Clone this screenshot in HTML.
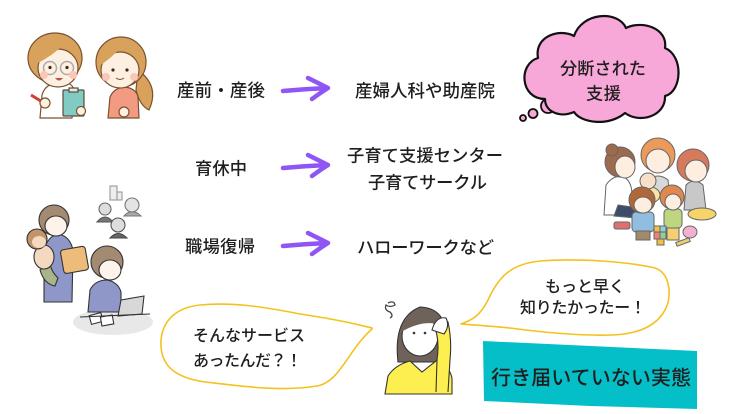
<!DOCTYPE html>
<html><head><meta charset="utf-8">
<style>
html,body{margin:0;padding:0;background:#fff;}
svg{display:block;}
text{font-family:"Liberation Sans","Noto Sans CJK JP",sans-serif;fill:#1e1e1e;font-weight:500;}
</style></head>
<body>
<svg width="736" height="414" viewBox="0 0 736 414" xmlns="http://www.w3.org/2000/svg">
<rect width="736" height="414" fill="#fff"/>

<!-- ===== Top-left: doctor + pregnant woman ===== -->
<g stroke="#7a5230" stroke-width="1.2">
  <path d="M40,118 L42,95 Q45,85 55,83 L68,83 Q75,86 74,95 L72,118 Z" fill="#fff"/>
  <rect x="63" y="90" width="21" height="26" rx="1" fill="#80cbc4" stroke="#5a4a3a"/>
  <rect x="69" y="88" width="9" height="4" fill="#e8e8e8" stroke="#5a4a3a"/>
  <circle cx="81" cy="111" r="4.5" fill="#fdf0e0"/>
  <line x1="31" y1="95" x2="44" y2="103" stroke="#d04030" stroke-width="3"/>
  <circle cx="45" cy="103" r="5" fill="#fdf0e0"/>
  <ellipse cx="55" cy="58" rx="27" ry="25" fill="#d9a25c"/>
  <ellipse cx="58" cy="68" rx="20" ry="19" fill="#fdf0e0"/>
  <path d="M36,64 Q38,40 60,37 Q79,40 80,62 Q72,50 62,46 Q52,56 36,64 Z" fill="#d9a25c" stroke="none"/>
  <path d="M138,70 Q160,86 149,110 Q140,106 136,90 Z" fill="#d9a25c"/>
  <path d="M108,118 L110,97 Q114,88 124,87 Q136,88 138,97 L139,118 Z" fill="#f39a82"/>
  <circle cx="124" cy="112" r="5" fill="#fdf0e0"/>
  <ellipse cx="121" cy="62" rx="25" ry="25" fill="#d9a25c"/>
  <ellipse cx="120" cy="70" rx="19" ry="18" fill="#fdf0e0"/>
  <path d="M99,66 Q101,42 122,39 Q143,42 145,62 Q131,52 122,46 Q112,58 99,66 Z" fill="#d9a25c" stroke="none"/>
</g>
<g>
  <circle cx="50" cy="68" r="6.5" fill="none" stroke="#aaa" stroke-width="1.5"/>
  <circle cx="67" cy="68" r="6.5" fill="none" stroke="#aaa" stroke-width="1.5"/>
  <circle cx="44" cy="75" r="4" fill="#f9c6b8"/><circle cx="73" cy="75" r="4" fill="#f9c6b8"/>
  <circle cx="50" cy="67.5" r="1.6" fill="#3a2a1a"/><circle cx="67" cy="67.5" r="1.6" fill="#3a2a1a"/>
  <path d="M55,78 Q59,83 63,78 Z" fill="#c0504d"/>
  <circle cx="106" cy="77" r="4" fill="#f9c6b8"/><circle cx="134" cy="77" r="4" fill="#f9c6b8"/>
  <circle cx="113" cy="70" r="1.6" fill="#3a2a1a"/><circle cx="127" cy="70" r="1.6" fill="#3a2a1a"/>
  <path d="M116,78 Q120,81 124,78" fill="none" stroke="#7a5230" stroke-width="1"/>
</g>

<!-- ===== Bottom-left ===== -->
<ellipse cx="113" cy="322" rx="40" ry="13" fill="#e8e8e8"/>
<g stroke="#333" stroke-width="1.1">
  <rect x="90" y="314" width="12" height="9" fill="#fff" transform="rotate(-15 96 318)"/>
  <rect x="101" y="316" width="12" height="9" fill="#fff" transform="rotate(-10 107 320)"/>
  <rect x="110" y="186" width="7" height="14" fill="#eee" stroke="#999"/>
  <rect x="117" y="192" width="5" height="8" fill="#eee" stroke="#999"/>
  <path d="M97,222 Q105,212 113,222 Z" fill="#777" stroke="#555"/>
  <circle cx="105" cy="209" r="6" fill="#ddd" stroke="#666"/>
  <path d="M124,216 Q132,207 141,216 Z" fill="#aaa" stroke="#777"/>
  <circle cx="132" cy="205" r="7" fill="#e4e4e4" stroke="#777"/>
  <path d="M110,238 Q118,229 127,238 Z" fill="#666" stroke="#444"/>
  <circle cx="118" cy="225" r="7" fill="#ddd" stroke="#555"/>
  <path d="M44,302 L44,250 Q48,236 58,234 Q70,236 73,250 L72,302 Z" fill="#8e97c8"/>
  <rect x="62" y="248" width="25" height="24" rx="3" fill="#edbb7a" transform="rotate(-10 74 260)"/>
  <circle cx="54" cy="220" r="15" fill="#a38a72"/>
  <ellipse cx="56" cy="226" rx="11" ry="10" fill="#fdf3ea"/>
  <path d="M40,270 Q44,284 55,286 L58,278 Q50,270 50,262 Z" fill="#a9b48a"/>
  <ellipse cx="44" cy="257" rx="10" ry="12" fill="#f5d8c0"/>
  <circle cx="37" cy="239" r="10" fill="#c2946c"/>
  <ellipse cx="39" cy="242" rx="7" ry="6" fill="#f5d8c0" stroke="none"/>
  <path d="M88,312 L90,290 Q95,280 107,280 Q118,282 121,292 L121,312 Z" fill="#8e97c8"/>
  <circle cx="107" cy="262" r="16" fill="#a38a72"/>
  <ellipse cx="110" cy="270" rx="11" ry="10" fill="#fdf3ea"/>
  <polygon points="121,300 144,296 142,314 118,316" fill="#d8d8d8"/>
  <line x1="80" y1="317" x2="150" y2="314"/>
</g>

<!-- ===== Top-right family ===== -->
<g stroke="#666" stroke-width="1">
  <path d="M604,215 L606,185 Q612,176 622,176 Q632,180 632,195 L630,215 Z" fill="#fff"/>
  <path d="M618,205 L640,208 L636,218 L614,216 Z" fill="#3d4c6a"/>
  <circle cx="620" cy="162" r="15" fill="#9c6a4c"/>
  <circle cx="612" cy="150" r="6" fill="#9c6a4c"/>
  <ellipse cx="625" cy="167" rx="10" ry="11" fill="#fdeee0"/>
  <path d="M646,198 L648,180 Q658,172 668,180 L670,198 Z" fill="#d8d8d8"/>
  <circle cx="658" cy="155" r="17" fill="#ec9a5c"/>
  <ellipse cx="658" cy="161" rx="12" ry="12" fill="#fdeee0"/>
  <path d="M684,210 L686,185 Q694,177 703,185 L706,210 Z" fill="#c8c8c8"/>
  <ellipse cx="702" cy="214" rx="14" ry="6" fill="#f6d46a"/>
  <circle cx="693" cy="165" r="16" fill="#d67a5e"/>
  <ellipse cx="696" cy="171" rx="11" ry="11" fill="#fdeee0"/>
  <ellipse cx="650" cy="195" rx="10" ry="8" fill="#f9e4a0"/>
  <circle cx="648" cy="181" r="8" fill="#f8e0c8"/>
  <rect x="632" y="212" width="22" height="20" rx="4" fill="#90bde0"/>
  <rect x="636" y="231" width="14" height="9" fill="#a08a6a"/>
  <circle cx="642" cy="200" r="13" fill="#b0683a"/>
  <ellipse cx="643" cy="205" rx="9" ry="8" fill="#fdeee0"/>
  <rect x="664" y="209" width="18" height="19" rx="4" fill="#bfd680"/>
  <rect x="667" y="228" width="12" height="12" fill="#f5d070"/>
  <circle cx="672" cy="197" r="12" fill="#e0884e"/>
  <ellipse cx="673" cy="202" rx="8" ry="8" fill="#fdeee0"/>
  <rect x="654" y="226" width="6" height="6" fill="#f0c040"/>
  <rect x="660" y="226" width="6" height="6" fill="#8ad0e0"/>
  <rect x="654" y="232" width="6" height="7" fill="#f08080"/>
  <rect x="660" y="232" width="6" height="7" fill="#90d090"/>
  <rect x="657" y="239" width="7" height="6" fill="#f0c040"/>
  <rect x="614" y="222" width="16" height="7" rx="2" fill="#e07070"/>
  <ellipse cx="690" cy="232" rx="7" ry="6" fill="#f4b0d0"/>
  <rect x="676" y="240" width="14" height="4" fill="#e8d070" transform="rotate(-20 683 242)"/>
</g>

<!-- ===== Arrows ===== -->
<g stroke="#8f55f5" stroke-width="4.5" stroke-linecap="round" stroke-linejoin="round" fill="none">
  <path d="M283,91 Q305,89 327,88 M308,78 Q320,84 328,88 Q320,93 312,99"/>
</g>
<g transform="translate(0,77)" stroke="#8f55f5" stroke-width="4.5" stroke-linecap="round" stroke-linejoin="round" fill="none">
  <path d="M283,91 Q305,89 327,88 M308,78 Q320,84 328,88 Q320,93 312,99"/>
</g>
<g transform="translate(0,155)" stroke="#8f55f5" stroke-width="4.5" stroke-linecap="round" stroke-linejoin="round" fill="none">
  <path d="M283,91 Q305,89 327,88 M308,78 Q320,84 328,88 Q320,93 312,99"/>
</g>

<!-- ===== Main labels ===== -->
<text x="177" y="96.5" font-size="17.5" textLength="88" lengthAdjust="spacing">産前・産後</text>
<text x="355" y="97" font-size="17.5" textLength="140" lengthAdjust="spacing">産婦人科や助産院</text>
<text x="195" y="174.5" font-size="17.3" textLength="52" lengthAdjust="spacing">育休中</text>
<text x="347" y="161.5" font-size="17.3" textLength="156" lengthAdjust="spacing">子育て支援センター</text>
<text x="368" y="188.5" font-size="17.3" textLength="119" lengthAdjust="spacing">子育てサークル</text>
<text x="185" y="252.5" font-size="17.3" textLength="70" lengthAdjust="spacing">職場復帰</text>
<text x="357" y="253.5" font-size="17.3" textLength="137" lengthAdjust="spacing">ハローワークなど</text>

<!-- ===== Cloud ===== -->
<circle cx="523" cy="118" r="3" fill="#f7a8d8" stroke="#111" stroke-width="1.8"/>
<circle cx="533" cy="113.5" r="4.5" fill="#f7a8d8" stroke="#111" stroke-width="1.8"/>
<circle cx="548" cy="106" r="7" fill="#f7a8d8" stroke="#111" stroke-width="1.8"/>
<path d="M545,99 C520,99 518,64 538,58 C534,36 560,28 574,36 C582,12 618,10 626,28 C642,20 668,28 665,48 C684,56 682,92 665,96 C666,116 640,124 625,113 C610,126 582,124 574,112 C560,118 545,112 545,99 Z" fill="#f7a8d8" stroke="#111" stroke-width="2.2" stroke-linejoin="round"/>
<text x="560" y="74.5" font-size="17.2" textLength="86" lengthAdjust="spacing">分断された</text>
<text x="586" y="99.5" font-size="17.2" textLength="35" lengthAdjust="spacing">支援</text>

<!-- ===== Center woman ===== -->
<g stroke="#333" stroke-width="1.1">
  <path d="M398,362 Q393,318 420,307 Q447,308 446,340 L446,362 Z" fill="#6f625a"/>
  <ellipse cx="420" cy="336" rx="18" ry="20" fill="#fff"/>
  <path d="M401,332 Q404,311 422,310 Q441,311 443,326 Q425,318 401,332 Z" fill="#6f625a" stroke="none"/>
  <path d="M385,394 L388,376 Q395,365 410,361 L422,372 L436,361 Q449,365 452,378 L452,394 Z" fill="#fcef4f"/>
  <path d="M436,392 L437,360 Q440,340 434,325 Q440,316 448,322 Q452,340 450,360 L448,392" fill="#fcef4f"/>
  <path d="M432,330 Q436,316 446,318 Q450,326 444,334 Z" fill="#fff"/>
  <path d="M388,303 Q394,300 395,305 Q390,308 386,305 Q384,310 390,312 Q394,316 390,318" fill="none" stroke="#444" stroke-width="1.3"/>
</g>
<circle cx="414" cy="333" r="1.3" fill="#333"/><circle cx="425" cy="333" r="1.3" fill="#333"/>

<!-- ===== Speech bubbles ===== -->
<path d="M372,328 C355,324 340,320 300,314 C260,306 230,302 200,305 C172,308 160,325 161,346 C162,368 178,378 205,382 C240,386 280,392 317,386 C340,382 348,350 372,329 Z" fill="#fff" stroke="#f5c11c" stroke-width="1.6" stroke-linejoin="round"/>
<text x="193" y="341" font-size="16" textLength="112" lengthAdjust="spacing">そんなサービス</text>
<text x="193" y="366" font-size="16" textLength="109" lengthAdjust="spacing">あったんだ？！</text>

<path d="M461,324 C472,320 480,316 488,300 C498,278 510,264 540,261 C580,258 630,262 655,268 C670,273 672,295 666,308 C658,325 640,334 612,335 C580,336 540,332 510,328 C490,326 475,325 461,324 Z" fill="#fff" stroke="#f5c11c" stroke-width="1.6" stroke-linejoin="round"/>
<text x="545" y="292" font-size="16" textLength="80" lengthAdjust="spacing">もっと早く</text>
<text x="520" y="313" font-size="16" textLength="126" lengthAdjust="spacing">知りたかったー！</text>

<!-- ===== Teal box ===== -->
<path d="M483,341 L697,351 L697,409 L590,406 L484,401 Z" fill="#04bfc8"/>
<text x="491" y="384.5" font-size="20" textLength="200" lengthAdjust="spacing">行き届いていない実態</text>
</svg>
</body></html>
